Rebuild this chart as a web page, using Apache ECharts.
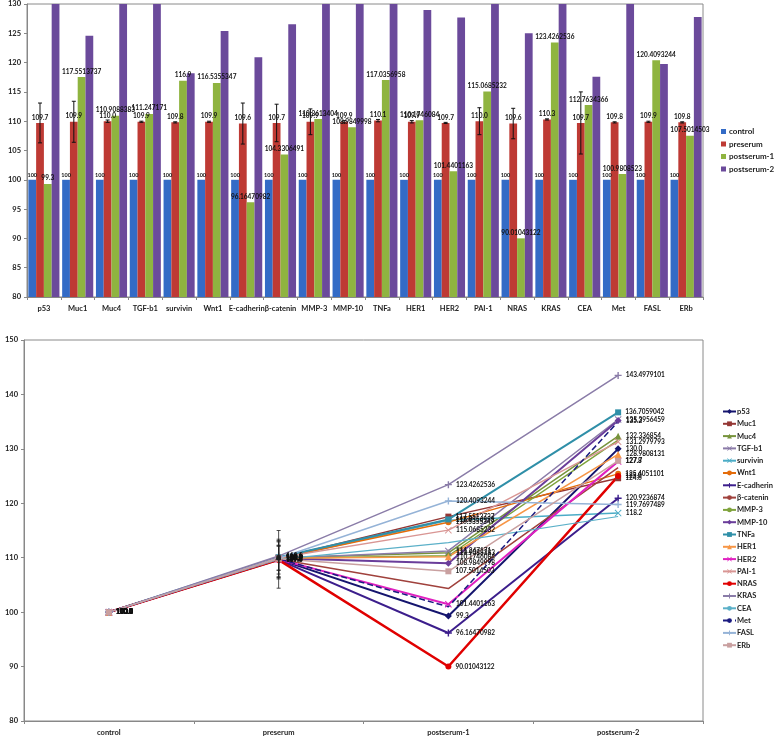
<!DOCTYPE html>
<html><head><meta charset="utf-8">
<script src="https://cdn.jsdelivr.net/npm/echarts@6/dist/echarts.min.js"></script>
<style>html,body{margin:0;padding:0;background:#fff}#c{width:778px;height:738px}</style>
</head><body><div id="c"></div>
<script>
// ---------- data ----------
const genes = ['p53','Muc1','Muc4','TGF-b1','survivin','Wnt1','E-cadherin','β-catenin','MMP-3','MMP-10','TNFa','HER1','HER2','PAI-1','NRAS','KRAS','CEA','Met','FASL','ERb'];
const groups = ['control','preserum','postserum-1','postserum-2'];
const control    = [100,100,100,100,100,100,100,100,100,100,100,100,100,100,100,100,100,100,100,100];
const preserum   = [109.7,109.9,110.0,109.9,109.8,109.9,109.6,109.7,109.9,109.9,110.1,109.9,109.7,110.0,109.6,110.3,109.7,109.8,109.9,109.8];
const preserumErr= [3.4,3.5,0.2,0.1,0.1,0.1,3.5,3.2,2.2,0.2,0.2,0.2,0.1,2.3,2.6,0.1,5.3,0.1,0.1,0.1];
const postserum1 = [99.3,117.5513737,110.9088383,111.247171,116.9,116.5355347,96.16470982,104.3306491,110.3613404,108.9849998,117.0356958,110.1746084,101.4401163,115.0685232,90.01043122,123.4262536,112.7634366,100.9808523,120.4093244,107.5014503];
const postserum2 = [130.0,124.6,132.336854,135.3956459,118.2,125.4051101,120.9236874,126.5638144,131.6,135.2,136.7059042,128.9808131,127.7,131.2979793,125.0,143.4979101,117.5690693,135.0,119.7697489,127.8];
const barTicks  = {min:80, max:130, interval:5};
const lineTicks = {min:80, max:150, interval:10};

// ---------- styles ----------
const barColors = ['#336BC6','#BE3A34','#8FB440','#6B4A9B'];
const lineColors = ['#15156E','#943634','#77933C','#8B7BA8','#4BACC6','#E46C0A','#3C1E8C','#A0413C','#7FA33C','#6A3D9A','#2F8FA8','#F79646','#E020C0','#D99694','#E00000','#8A7CA8','#5BB0C8','#1A1A80','#95B3D7','#C9A0A0'];
const plusP = 'path://M4,0H6V4H10V6H6V10H4V6H0V4H4Z';
const crossP = 'path://M1,0L5,4L9,0L10,1L6,5L10,9L9,10L5,6L1,10L0,9L4,5L0,1Z';
const markers = ['diamond','rect','triangle',crossP,crossP,'circle',plusP,'none','none','diamond','rect','triangle',crossP,crossP,'circle',plusP,'none','none',plusP,'rect'];
const widths = [2,1.5,1.5,1.5,1.5,1.5,2,1.5,1.5,2,2,1.5,2,1.5,2.5,1.5,1.2,1.5,1.5,1.5];
const FONT = 'Lato';
const axisLbl = {fontFamily:FONT, fontWeight:'bold', fontSize:7.5, color:'#222'};

const fmt = v => Number.isInteger(v) ? v.toFixed(1) : String(v);
const catGap = 0.08;

const series = [];
groups.forEach((g, k) => {
  const vals = [control, preserum, postserum1, postserum2][k];
  series.push({
    name: g, type: 'bar', xAxisIndex: 0, yAxisIndex: 0,
    data: vals, barGap: '0%', barCategoryGap: (catGap*100)+'%',
    itemStyle: {color: barColors[k]},
    label: {show: k < 3, position: 'top', distance: 2, fontFamily: FONT, fontWeight: 'bold', fontSize: k===0?5.5:6.5, color: '#111',
      formatter: p => k===0 ? '100' : fmt(p.value)},
    clip: true
  });
});
// error bars on preserum bars
series.push({
  type: 'custom', xAxisIndex: 0, yAxisIndex: 0, silent: true, z: 10,
  encode: {x: 0, y: [1, 2]},
  data: genes.map((g, i) => [i, preserum[i] - preserumErr[i], preserum[i] + preserumErr[i]]),
  renderItem(params, api) {
    const x = api.value(0);
    const lo = api.coord([x, api.value(1)]);
    const hi = api.coord([x, api.value(2)]);
    const band = api.size([1, 0])[0];
    const w = band * (1 - catGap) / 4;
    const cx = lo[0] - 0.5 * w;
    const st = {stroke: '#111', lineWidth: 1};
    return {type: 'group', children: [
      {type: 'line', shape: {x1: cx, y1: lo[1], x2: cx, y2: hi[1]}, style: st},
      {type: 'line', shape: {x1: cx-2, y1: lo[1], x2: cx+2, y2: lo[1]}, style: st},
      {type: 'line', shape: {x1: cx-2, y1: hi[1], x2: cx+2, y2: hi[1]}, style: st}
    ]};
  }
});
// line chart
genes.forEach((g, i) => {
  series.push({
    name: g, type: 'line', xAxisIndex: 1, yAxisIndex: 1,
    data: [control[i], preserum[i], postserum1[i], postserum2[i]],
    symbol: markers[i], symbolSize: markers[i]==='rect'?6:(markers[i]==='circle'?6:7),
    showSymbol: markers[i] !== 'none',
    lineStyle: {color: lineColors[i], width: widths[i], type: g==='Met' ? 'dashed' : 'solid'},
    itemStyle: {color: lineColors[i]},
    label: {show: true, position: 'right', distance: 4, fontFamily: FONT, fontWeight: 'bold', fontSize: 6.5, color: '#111',
      formatter: p => fmt(p.value)},
    emphasis: {disabled: true}
  });
});
series.push({
  type: 'custom', xAxisIndex: 1, yAxisIndex: 1, silent: true, z: 10,
  encode: {x: 0, y: [1, 2]},
  data: genes.map((g, i) => [1, preserum[i] - preserumErr[i], preserum[i] + preserumErr[i]]),
  renderItem(params, api) {
    const lo = api.coord([1, api.value(1)]);
    const hi = api.coord([1, api.value(2)]);
    const st = {stroke: '#222', lineWidth: 0.8};
    const cx = lo[0];
    return {type: 'group', children: [
      {type: 'line', shape: {x1: cx, y1: lo[1], x2: cx, y2: hi[1]}, style: st},
      {type: 'line', shape: {x1: cx-2, y1: lo[1], x2: cx+2, y2: lo[1]}, style: st},
      {type: 'line', shape: {x1: cx-2, y1: hi[1], x2: cx+2, y2: hi[1]}, style: st}
    ]};
  }
});

const chart = echarts.init(document.getElementById('c'), null, {renderer: 'canvas'});
chart.setOption({
  animation: false,
  backgroundColor: '#fff',
  grid: [
    {left: 27, right: 75, top: 4, height: 293, show: true, borderColor: '#8a8a8a', borderWidth: 1, backgroundColor: 'transparent'},
    {left: 24, right: 75, top: 340, height: 381, show: true, borderColor: '#8a8a8a', borderWidth: 1, backgroundColor: 'transparent'}
  ],
  xAxis: [
    {type: 'category', gridIndex: 0, data: genes, axisLine: {lineStyle: {color: '#888'}},
     axisTick: {show: true, length: 3, lineStyle: {color: '#888'}}, axisLabel: Object.assign({margin: 8, interval: 0}, axisLbl)},
    {type: 'category', gridIndex: 1, data: groups, axisLine: {lineStyle: {color: '#888'}},
     axisTick: {show: true, length: 3, lineStyle: {color: '#888'}}, axisLabel: Object.assign({margin: 8}, axisLbl)}
  ],
  yAxis: [
    {type: 'value', gridIndex: 0, min: barTicks.min, max: barTicks.max, interval: barTicks.interval,
     axisLine: {show: true, lineStyle: {color: '#888'}}, axisTick: {show: true, length: 3, lineStyle: {color: '#888'}},
     splitLine: {show: false}, axisLabel: Object.assign({margin: 6}, axisLbl)},
    {type: 'value', gridIndex: 1, min: lineTicks.min, max: lineTicks.max, interval: lineTicks.interval,
     axisLine: {show: true, lineStyle: {color: '#888'}}, axisTick: {show: true, length: 3, lineStyle: {color: '#888'}},
     splitLine: {show: false}, axisLabel: Object.assign({margin: 6}, axisLbl)}
  ],
  legend: [
    {data: groups, orient: 'vertical', left: 716, top: 122, icon: 'rect', itemWidth: 5, itemHeight: 5, itemGap: 3.5,
     textStyle: {fontFamily: FONT, fontWeight: 'bold', fontSize: 8, color: '#222', lineHeight: 9, padding: [0,0,0,-2]}},
    {data: genes, orient: 'vertical', left: 722, top: 407, padding: 0, itemWidth: 13, itemHeight: 6, itemGap: 3.3,
     textStyle: {fontFamily: FONT, fontWeight: 'bold', fontSize: 7.5, color: '#222', lineHeight: 9, padding: [0,0,0,-4], width: 50, overflow: 'none'}}
  ],
  series: series
});
</script></body></html>
